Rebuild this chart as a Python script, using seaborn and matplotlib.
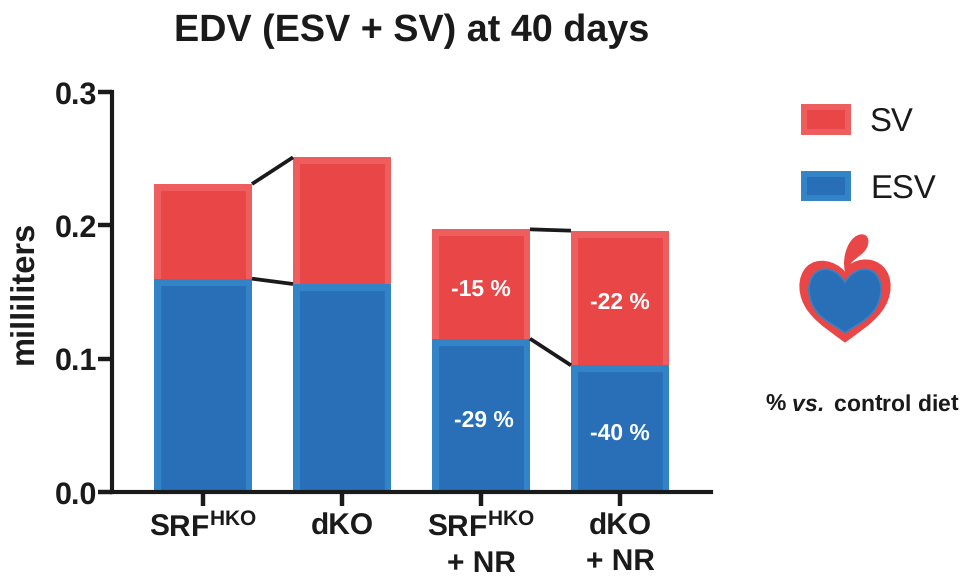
import matplotlib
matplotlib.use("Agg")
import matplotlib.pyplot as plt
import numpy as np
import pandas as pd
import seaborn as sns
from matplotlib.patches import PathPatch, Rectangle
from matplotlib.path import Path
from matplotlib.transforms import Affine2D, Bbox, TransformedBbox

categories = ["SRF", "dKO", "SRF + NR", "dKO + NR"]
tick_labels = ["SRF$^{\\mathbf{HKO}}$", "dKO", "SRF$^{\\mathbf{HKO}}$\n+ NR", "dKO\n+ NR"]
esv = [0.160, 0.156, 0.115, 0.095]
sv = [0.071, 0.095, 0.082, 0.101]
sv_labels = [None, None, "-15 %", "-22 %"]
esv_labels = [None, None, "-29 %", "-40 %"]
connected_pairs = [(0, 1), (2, 3)]

RED, RED_EDGE = "#E94647", "#EE5E5E"
BLUE, BLUE_EDGE = "#286FB7", "#3384C7"
INK = "#1A1A1A"

sns.set_theme(style="white")
plt.rcParams["font.family"] = ["Liberation Sans", "DejaVu Sans"]
plt.rcParams["mathtext.fontset"] = "custom"
plt.rcParams["mathtext.rm"] = "Liberation Sans"
plt.rcParams["mathtext.bf"] = "Liberation Sans:bold"
plt.rcParams["mathtext.it"] = "Liberation Sans:italic"
plt.rcParams["mathtext.bfit"] = "Liberation Sans:bold:italic"
plt.rcParams["text.color"] = INK
plt.rcParams["text.hinting"] = "no_hinting"

W, H = 962, 577
fig = plt.figure(figsize=(W / 100, H / 100), dpi=100)
ax = fig.add_axes([112 / W, 1 - 492 / H, (711 - 112) / W, 400 / H])

df = pd.DataFrame({"cat": categories, "esv": esv, "sv": sv})
df["total"] = df["esv"] + df["sv"]
BAR_W = 98 / 139

sns.barplot(data=df, x="cat", y="total", color=RED, saturation=1, width=BAR_W,
            edgecolor=RED_EDGE, linewidth=9.5, ax=ax, zorder=2)
sns.barplot(data=df, x="cat", y="esv", color=BLUE, saturation=1, width=BAR_W,
            edgecolor=BLUE_EDGE, linewidth=9.5, ax=ax, zorder=3)
# Keep the light stroke inside each bar and leave the baseline without one
for container in ax.containers:
    for p in container:
        x0, x1, top = p.get_x(), p.get_x() + p.get_width(), p.get_height()
        p.set_clip_box(TransformedBbox(Bbox([[x0, 0], [x1, top]]), ax.transData))
        p.set_y(-0.02)
        p.set_height(top + 0.02)

for a, b in connected_pairs:
    xs = [a + BAR_W / 2, b - BAR_W / 2]
    ax.plot(xs, [df["total"][a], df["total"][b]], color=INK, lw=2.7, zorder=4, solid_capstyle="butt")
    ax.plot(xs, [esv[a], esv[b]], color=INK, lw=2.7, zorder=4, solid_capstyle="butt")

for i in range(len(categories)):
    if sv_labels[i]:
        ax.text(i, esv[i] + sv[i] * 0.5 - 0.004, sv_labels[i], color="white", weight="bold",
                fontsize=16.5, ha="center", va="center", zorder=5)
    if esv_labels[i]:
        ax.text(i + (0.02 if i == 2 else 0), esv[i] * 0.5 - 0.004, esv_labels[i],
                color="white", weight="bold", fontsize=16.5, ha="center", va="center", zorder=5)

ax.set_xlim(-91 / 139, (711 - 203) / 139)
ax.set_ylim(0, 0.3)
ax.set_yticks([0, 0.1, 0.2, 0.3], ["0.0", "0.1", "0.2", "0.3"])
ax.set_xticks(range(4), tick_labels)
ax.tick_params(axis="y", length=10, width=3.2, color=INK, labelsize=22, pad=1, left=True, labelcolor=INK)
ax.tick_params(axis="x", length=10, width=3.2, color=INK, labelsize=21.5, pad=5, bottom=True, labelcolor=INK)
for lab in ax.get_xticklabels() + ax.get_yticklabels():
    lab.set_fontweight("bold")
for lab in ax.get_xticklabels():
    lab.set_linespacing(1.36)
ax.set_xlabel("")
ax.set_ylabel("")
fig.text(25 / W, 1 - 292 / H, "milliliters", rotation=90, fontsize=23.5, weight="bold", ha="center", va="center")
sns.despine(ax=ax)
for s in ("left", "bottom"):
    ax.spines[s].set_linewidth(3)
    ax.spines[s].set_color(INK)
    ax.spines[s].set_zorder(6)

fig.text(412 / W, 1 - 31 / H, "EDV (ESV + SV) at 40 days", fontsize=27.2, weight="bold", ha="center", va="center")

handles = [Rectangle((0, 0), 1, 1, facecolor=RED, edgecolor=RED_EDGE, lw=4.3),
           Rectangle((0, 0), 1, 1, facecolor=BLUE, edgecolor=BLUE_EDGE, lw=4.3)]
fig.legend(handles, ["SV", "ESV"], loc="upper left", bbox_to_anchor=(804 / W, 1 - 107 / H),
           frameon=False, fontsize=23.7, handlelength=1.34, handleheight=0.76,
           handletextpad=0.66, labelspacing=1.09, borderpad=0, borderaxespad=0)

# Heart icon, drawn in reference-crop pixels and mapped to the figure
icon = Affine2D().scale(1 / 3).translate(780, 90).scale(1, -1).translate(0, H)
M, C, Z = Path.MOVETO, Path.CURVE4, Path.CLOSEPOLY
outer = [(195, 545), (165, 510), (110, 500), (80, 530),
         (50, 560), (50, 620), (85, 665),
         (115, 705), (165, 735), (195, 758),
         (225, 735), (275, 705), (305, 665),
         (340, 620), (340, 560), (310, 530),
         (280, 500), (235, 505), (212, 522),
         (225, 500), (268, 490), (265, 450),
         (262, 425), (225, 425), (205, 465),
         (190, 495), (190, 525), (195, 545), (195, 545)]
outer_codes = [M] + [C] * 27 + [Z]
inner = [(195, 578), (175, 540), (130, 525), (105, 550),
         (80, 575), (80, 625), (110, 665),
         (135, 695), (170, 710), (195, 728),
         (220, 710), (255, 695), (280, 665),
         (310, 625), (310, 575), (285, 550),
         (260, 525), (215, 540), (195, 578), (195, 578)]
inner_codes = [M] + [C] * 18 + [Z]
fig.add_artist(PathPatch(Path(outer, outer_codes), facecolor=RED, edgecolor="none", transform=icon))
fig.add_artist(PathPatch(Path(inner, inner_codes), facecolor=BLUE, edgecolor=BLUE_EDGE, lw=1.2, transform=icon))

fig.text(862 / W, 1 - 405 / H, "% $\\mathbfit{vs.}$ control diet", fontsize=16.5, weight="bold", ha="center", va="center")

fig.savefig("out.png", dpi=100)
